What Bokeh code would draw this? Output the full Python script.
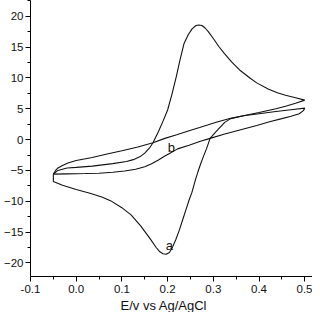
from bokeh.plotting import figure
from bokeh.models import FixedTicker, PrintfTickFormatter, Range1d, Title, ColumnDataSource
from bokeh.core.properties import value
from bokeh.embed import file_html
from bokeh.resources import INLINE

# Curve a: forward (anodic) scan
E_a_fwd = [-0.05, -0.04, -0.02, 0.0, 0.035, 0.08, 0.11, 0.125, 0.14, 0.15, 0.16, 0.168, 0.18, 0.19, 0.2,
           0.21, 0.219, 0.227, 0.236, 0.245, 0.254, 0.262, 0.268, 0.275, 0.282, 0.289, 0.3, 0.312,
           0.324, 0.34, 0.359, 0.38, 0.395, 0.42, 0.44, 0.458, 0.48, 0.5]
I_a_fwd = [-5.6, -5.0, -4.6, -4.5, -4.3, -3.9, -3.55, -3.25, -2.75, -2.2, -1.4, -0.5, 1.3, 3.0, 4.8,
           7.5, 10.2, 12.9, 15.6, 17.0, 18.0, 18.5, 18.6, 18.5, 18.1, 17.5, 16.4, 15.1,
           14.0, 12.6, 11.2, 10.0, 9.2, 8.2, 7.6, 7.2, 6.8, 6.4]
# Curve a: reverse (cathodic) scan
E_a_rev = [0.5, 0.48, 0.458, 0.437, 0.4, 0.36, 0.338, 0.325, 0.31, 0.3, 0.293, 0.285, 0.278,
           0.272, 0.266, 0.261, 0.253, 0.247, 0.24, 0.233, 0.226, 0.218, 0.211, 0.204, 0.197,
           0.19, 0.183, 0.175, 0.162, 0.141, 0.12, 0.099, 0.075, 0.056, 0.03, 0.0, -0.03, -0.05]
I_a_rev = [6.4, 5.9, 5.4, 5.0, 4.4, 3.8, 3.4, 2.8, 1.6, 0.8, 0.2, -1.5, -2.8,
           -4.0, -5.3, -6.5, -8.6, -9.8, -11.4, -13.0, -14.6, -16.2, -17.4, -18.3, -18.6,
           -18.5, -18.2, -17.5, -16.1, -14.0, -12.2, -11.0, -9.9, -9.3, -8.7, -8.1, -7.4, -6.8]

# Curve b: upper (forward) branch
E_b_up = [-0.05, -0.045, -0.04, -0.03, -0.018, 0.0, 0.035, 0.07, 0.1, 0.135, 0.168, 0.194,
          0.22, 0.247, 0.27, 0.289, 0.31, 0.338, 0.37, 0.4, 0.437, 0.47, 0.5]
I_b_up = [-5.6, -5.0, -4.6, -4.2, -3.8, -3.4, -2.9, -2.3, -1.8, -1.2, -0.5, 0.2,
          0.8, 1.45, 1.95, 2.4, 2.9, 3.45, 3.9, 4.2, 4.55, 4.85, 5.1]
# Curve b: lower (reverse) branch
E_b_lo = [0.5, 0.497, 0.488, 0.47, 0.45, 0.423, 0.395, 0.36, 0.325, 0.293, 0.27, 0.247, 0.222,
          0.205, 0.193, 0.18, 0.165, 0.15, 0.13, 0.106, 0.08, 0.05, 0.02, -0.02, -0.05]
I_b_lo = [5.1, 4.7, 4.2, 3.8, 3.4, 2.9, 2.3, 1.6, 0.9, 0.2, -0.3, -0.9, -1.5,
          -2.2, -2.7, -3.3, -3.9, -4.4, -4.8, -5.1, -5.3, -5.45, -5.5, -5.55, -5.6]

label_x = [0.204, 0.208]
label_y = [-17.2, -1.3]
label_text = ["a", "b"]

x_ticks = [-0.1, 0.0, 0.1, 0.2, 0.3, 0.4, 0.5]
x_minor = [-0.05, 0.05, 0.15, 0.25, 0.35, 0.45]
y_ticks = [-20, -15, -10, -5, 0, 5, 10, 15, 20]
y_minor = [-22.5, -17.5, -12.5, -7.5, -2.5, 2.5, 7.5, 12.5, 17.5, 22.5]
x_title = "E/v vs Ag/AgCl"

FONT = "Liberation Sans"

p = figure(width=312, height=312, output_backend="svg", toolbar_location=None,
           x_range=Range1d(-0.1, 0.517), y_range=Range1d(-22.2, 22.56),
           min_border_left=26, min_border_right=0, min_border_top=0, min_border_bottom=34)
p.outline_line_color = None
p.grid.visible = False
p.background_fill_color = "white"
p.border_fill_color = "white"

a_x = E_a_fwd + E_a_rev + [E_a_fwd[0]]
a_y = I_a_fwd + I_a_rev + [I_a_fwd[0]]
b_x = E_b_up + E_b_lo
b_y = I_b_up + I_b_lo
p.line(a_x, a_y, line_color="#111111", line_width=1.1)
p.line(b_x, b_y, line_color="#111111", line_width=1.1)

src = ColumnDataSource(dict(x=label_x, y=label_y, t=label_text))
p.text(x="x", y="y", text="t", source=src, text_font=value(FONT), text_font_size="13px",
       text_align="center", text_baseline="middle", text_color="#111111")

for ax in (p.xaxis[0], p.yaxis[0]):
    ax.axis_line_color = "black"
    ax.axis_line_width = 1
    ax.major_tick_in = 0
    ax.minor_tick_in = 0
    ax.major_tick_out = 5
    ax.minor_tick_out = 3
    ax.major_tick_line_color = "black"
    ax.minor_tick_line_color = "black"
    ax.major_label_text_font = FONT
    ax.major_label_text_font_size = "11.5px"
    ax.major_label_text_color = "#111111"

p.xaxis.ticker = FixedTicker(ticks=x_ticks, minor_ticks=x_minor)
p.xaxis.formatter = PrintfTickFormatter(format="%.1f")
p.xaxis.major_label_standoff = 3
p.yaxis.ticker = FixedTicker(ticks=y_ticks, minor_ticks=y_minor)
p.yaxis.major_label_standoff = 2

p.add_layout(Title(text=x_title, align="left", offset=90, text_font=FONT,
                   text_font_size="13px", text_font_style="normal", text_color="#111111",
                   standoff=0), "below")

open("out.html", "w").write(file_html(p, INLINE))
